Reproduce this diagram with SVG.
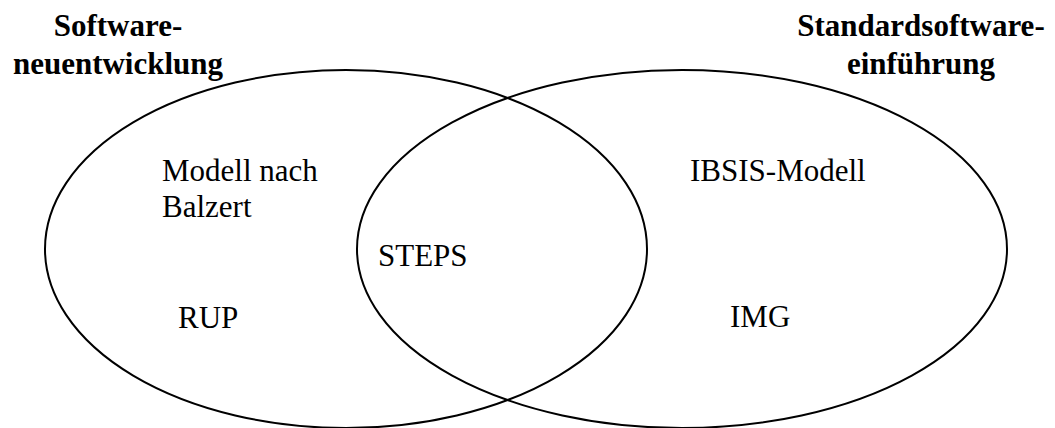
<svg xmlns="http://www.w3.org/2000/svg" width="1055" height="428" viewBox="0 0 1055 428">
<style>
.set{fill:none;stroke:#000;stroke-width:2}
.t{font-family:"Liberation Serif","Times New Roman",serif;font-size:31px;fill:#000}
.h{font-family:"Liberation Serif","Times New Roman",serif;font-size:31px;font-weight:bold;fill:#000;text-anchor:middle}
</style>
<rect width="1055" height="428" fill="#fff"/>
<g id="set-left">
<ellipse class="set" cx="346" cy="249" rx="301" ry="179"/>
<text class="h" x="118" y="36">Software-</text>
<text class="h" x="118" y="74">neuentwicklung</text>
</g>
<g id="set-right">
<ellipse class="set" cx="682" cy="249" rx="325" ry="179"/>
<text class="h" x="921" y="36">Standardsoftware-</text>
<text class="h" x="921" y="74">einführung</text>
</g>
<g id="balzert"><text class="t" x="162" y="181">Modell nach</text><text class="t" x="162" y="217">Balzert</text></g>
<g id="rup"><text class="t" x="178" y="328">RUP</text></g>
<g id="steps"><text class="t" x="378" y="266">STEPS</text></g>
<g id="ibsis"><text class="t" x="690" y="181">IBSIS-Modell</text></g>
<g id="img"><text class="t" x="730" y="327">IMG</text></g>
<g id="connectors"></g>
</svg>
